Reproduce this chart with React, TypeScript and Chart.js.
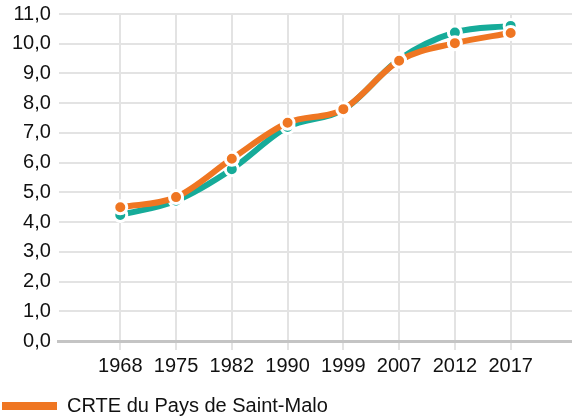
import React, { useEffect, useRef } from "react";
import { Chart, registerables } from "chart.js";

Chart.register(...registerables);

const years = ["1968", "1975", "1982", "1990", "1999", "2007", "2012", "2017"];
const crteValues = [4.5, 4.84, 6.13, 7.34, 7.8, 9.43, 10.02, 10.36];
const otherValues = [4.24, 4.72, 5.78, 7.2, 7.78, 9.47, 10.38, 10.6];
const yTicks = [0, 1, 2, 3, 4, 5, 6, 7, 8, 9, 10, 11];
const legendLabel = "CRTE du Pays de Saint-Malo";

const ORANGE = "#ef7622";
const TEAL = "#16ab99";

export default function App() {
  const ref = useRef<HTMLCanvasElement | null>(null);

  useEffect(() => {
    document.body.style.margin = "0";
    const ctx = ref.current;
    if (!ctx) return;
    Chart.defaults.font.family = "'Liberation Sans', Arial, sans-serif";
    const chart = new Chart(ctx, {
      type: "line",
      data: {
        datasets: [
          {
            label: legendLabel,
            data: crteValues.map((v, i) => ({ x: i, y: v })),
            borderColor: ORANGE,
            backgroundColor: ORANGE,
            pointBackgroundColor: ORANGE,
            pointBorderColor: "#ffffff",
            borderWidth: 6,
            pointRadius: 6.5,
            pointBorderWidth: 3,
            cubicInterpolationMode: "monotone",
            fill: false,
          },
          {
            label: "hidden",
            data: otherValues.map((v, i) => ({ x: i, y: v })),
            borderColor: TEAL,
            backgroundColor: TEAL,
            pointBackgroundColor: TEAL,
            pointBorderColor: "#ffffff",
            borderWidth: 6,
            pointRadius: 6.5,
            pointBorderWidth: 3,
            cubicInterpolationMode: "monotone",
            fill: false,
          },
        ],
      },
      options: {
        animation: false,
        responsive: false,
        layout: { autoPadding: false, padding: { top: 0, left: 0, right: 0, bottom: -6 } },
        scales: {
          x: {
            type: "linear",
            min: -1.1,
            max: 8.1,
            ticks: {
              stepSize: 1,
              includeBounds: false,
              color: "#111",
              font: { size: 20 },
              padding: 4,
              maxRotation: 0,
              autoSkip: false,
              callback: (v: any) => years[v as number] ?? "",
            },
            afterBuildTicks: (axis: any) => {
              axis.ticks = axis.ticks.filter(
                (t: any) => t.value >= 0 && t.value <= years.length - 1
              );
            },
            afterFit: (axis: any) => {
              axis.height += 12;
            },
            grid: {
              color: "#e3e3e3",
              lineWidth: 2,
              drawTicks: true,
              tickLength: 9,
            },
            border: { display: true, color: "#c4c4c4", width: 3 },
          },
          y: {
            min: 0,
            max: 11,
            afterBuildTicks: (axis: any) => {
              axis.ticks = yTicks.map((v) => ({ value: v }));
            },
            afterFit: (axis: any) => {
              axis.width += 4;
              axis.paddingTop = 14;
            },
            ticks: {
              color: "#111",
              font: { size: 20 },
              padding: 8,
              callback: (v: any) => Number(v).toFixed(1).replace(".", ","),
            },
            grid: { color: "#e3e3e3", lineWidth: 2, drawTicks: false },
            border: { display: false },
          },
        },
        plugins: {
          legend: {
            position: "bottom",
            align: "start",
            labels: {
              boxWidth: 55,
              boxHeight: 8,
              padding: 2,
              color: "#111",
              font: { size: 20 },
              generateLabels: (c: any) =>
                Chart.defaults.plugins.legend.labels
                  .generateLabels(c)
                  .filter((it: any) => it.datasetIndex === 0)
                  .map((it: any) => ({ ...it, lineWidth: 0, strokeStyle: ORANGE })),
            },
          },
          tooltip: { enabled: false },
        },
      },
    });
    return () => chart.destroy();
  }, []);

  return (
    <div style={{ width: 572, height: 420, overflow: "hidden" }}>
      <canvas
        ref={ref}
        width={572}
        height={420}
        style={{ width: 572, height: 420, display: "block" }}
      />
    </div>
  );
}
